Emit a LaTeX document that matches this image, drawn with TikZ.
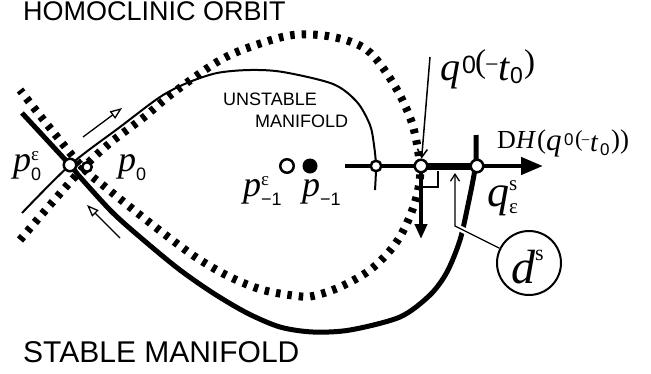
\documentclass[tikz,border=0pt]{standalone}
\usepackage{fontspec}
\setmainfont{Liberation Serif}
\newfontfamily\lsans{Liberation Sans}
\usetikzlibrary{arrows.meta}
\newcommand\fs[1]{\fontsize{#1}{#1}\selectfont}
\newcommand\gl[2]{\makebox[#1][l]{#2}}
\begin{document}
\begin{tikzpicture}[x=1pt,y=-1pt,
  stablem/.style={line width=5pt},
  unstablem/.style={line width=2pt},
  orbit/.style={line width=8pt, dash pattern=on 4.5pt off 7pt},
  ptc/.style={circle, draw, line width=2.5pt, fill=white, inner sep=0pt, minimum size=#1},
  thinarrow/.style={line width=1.3pt, -{Triangle[open,length=12pt,width=9pt]}},
  lbl/.style={inner sep=0pt, anchor=base west},
]
\useasboundingbox (0,0) rectangle (651,373);

% homoclinic orbit (dotted)
\draw[orbit] plot[smooth, tension=0.55] coordinates {(20,240) (50,205) (83,168) (110,143) (143,118) (173,93) (217,62) (250,47) (293,35) (333,37) (367,50) (393,83) (412,123) (420,167) (417,195) (407,223) (393,247) (370,270) (340,287) (313,296) (297,296) (263,290) (230,277) (197,258) (163,233) (130,207) (104,186) (83,168) (50,128) (20,90)};

% stable manifold
\draw[stablem] plot[smooth, tension=0.5] coordinates {(22,113) (70,165) (80,177) (113,213) (147,243) (180,270) (213,293) (247,313) (280,327) (313,332) (350,330) (400,317) (430,295) (447,272) (460,240) (468,205) (474,175) (476,160) (476,135)};

% unstable manifold
\draw[unstablem] plot[smooth, tension=0.5] coordinates {(22,213) (70,165) (120,127) (160,97) (187,83) (217,73) (250,70) (283,72) (333,84) (357,102) (370,125) (374,145) (376,166) (375,190)};

% DH line
\coordinate (dhs) at (345,166);
\coordinate (dhe) at (543,166);
\draw[line width=4.5pt, -{Triangle[length=22pt,width=17pt]}] (dhs) -- (dhe);
\draw[line width=7pt] (421,166) -- (477,166);

% normal arrow and right angle
\coordinate (nend) at (421,239);
\draw[line width=4pt, -{Triangle[length=15pt,width=12pt]}] (421,166) -- (nend);
\draw[line width=2pt] (421,187) -- (438,187) -- (438,171);

% points on DH line
\node[ptc=10.5pt] (c1) at (376,166) {};
\node[ptc=12.5pt] (c2) at (421,166) {};
\node[ptc=12.5pt] (c3) at (477,166) {};

% saddle points
\node[ptc=12.5pt] (s0e) at (70,165) {};
\node[ptc=9.5pt] (s0) at (87,167) {};
\node[ptc=13.5pt] (pm1e) at (287,166) {};
\node[circle, fill, inner sep=0pt, minimum size=15pt] (pm1) at (310,166) {};

% small flow arrows
\coordinate (a1s) at (83,137); \coordinate (a1e) at (122,108);
\coordinate (a2s) at (120,238); \coordinate (a2e) at (87,205);
\draw[thinarrow] (a1s) -- (a1e);
\draw[thinarrow] (a2s) -- (a2e);

% arrow to q0(-t0)
\coordinate (qa) at (430,57);
\draw[line width=1.5pt, -{Straight Barb[length=8pt,width=10pt]}] (qa) -- (c2);

% d^s circle and leader
\node[circle, draw, line width=2pt, minimum size=64pt, inner sep=0pt] (ds) at (529,263) {};
\coordinate (lb) at (455,226);
\coordinate (lt) at (455,173);
\draw[white, line width=6pt, shorten <=3pt] (ds) -- (lb);
\draw[line width=1.3pt, -{Straight Barb[length=7pt,width=9pt]}] (ds) -- (lb) -- (lt);
\node[lbl] (dsl) at (511,283) {{\fs{48}\itshape d}\raisebox{23pt}{\fs{22}s}};

% texts
\node[lbl, font=\lsans\fs{27}] (t1) at (23,20) {HOMOCLINIC ORBIT};
\node[lbl, font=\lsans\fs{30}] (t2) at (23,362) {STABLE MANIFOLD};
\node[lbl, font=\lsans\fs{18}] (t3) at (223,105) {UNSTABLE};
\node[lbl, font=\lsans\fs{18}] (t4) at (255,127) {MANIFOLD};

\node[lbl] (lp0e) at (13,171) {{\fs{36}\itshape p}\makebox[0pt][l]{\raisebox{11pt}{\fs{19}ε}}\raisebox{-9pt}{\lsans\fs{18}0}};
\node[lbl] (lp0) at (118,171) {{\fs{36}\itshape p}\raisebox{-9pt}{\lsans\fs{18}0}};
\node[lbl] (lpm1e) at (243,196) {{\fs{36}\itshape p}\makebox[0pt][l]{\raisebox{11pt}{\fs{19}ε}}\raisebox{-9pt}{\lsans\fs{18}−1}};
\node[lbl] (lpm1) at (302,196) {{\fs{36}\itshape p}\raisebox{-9pt}{\lsans\fs{18}−1}};

\node[lbl] (lq0) at (440,80) {\gl{22pt}{\fs{40}\itshape q}\gl{13pt}{\raisebox{7pt}{\lsans\fs{25}0}}\gl{10pt}{\raisebox{8pt}{\fs{33}(}}\gl{13pt}{\raisebox{8pt}{\fs{24}−}}\gl{12pt}{\fs{40}\itshape t}\gl{14pt}{\raisebox{-3pt}{\lsans\fs{23}0}}{\raisebox{8pt}{\fs{33})}}};

\node[lbl] (ldh) at (497,148) {\gl{19pt}{\fs{26}D}\gl{21pt}{\fs{26}\itshape H}\gl{9pt}{\fs{27}(}\gl{18pt}{\raisebox{-2pt}{\fs{31}\itshape q}}\gl{11pt}{\raisebox{3pt}{\lsans\fs{17}0}}\gl{6pt}{\raisebox{2pt}{\fs{23}(}}\gl{9pt}{\raisebox{3pt}{\fs{16}−}}\gl{10pt}{\raisebox{-3pt}{\fs{28}\itshape t}}\gl{11pt}{\raisebox{-7pt}{\lsans\fs{17}0}}{\fs{27}))}};

\node[lbl] (lqs) at (487,206) {{\fs{44}\itshape q}\makebox[0pt][l]{\raisebox{16pt}{\fs{21}s}}\raisebox{-7pt}{\fs{21}ε}};
\end{tikzpicture}
\end{document}
